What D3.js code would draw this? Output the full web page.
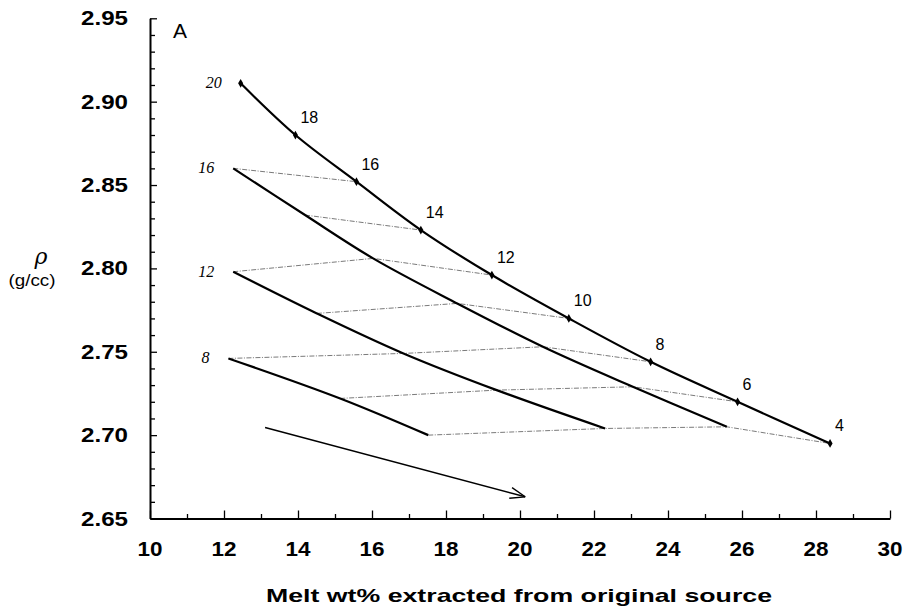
<!DOCTYPE html>
<html>
<head>
<meta charset="utf-8">
<script src="https://cdn.jsdelivr.net/npm/d3@7"></script>
<style>
  body { margin: 0; background: #fff; }
  .tick-lab { font-family: "Liberation Sans", Arial, sans-serif; font-weight: bold; font-size: 20px; }
</style>
</head>
<body>
<div id="chart"></div>
<script>
// pressure steps along the melting paths (kbar)
const pressureSteps = [20, 18, 16, 14, 12, 10, 8, 6, 4];
const startPressures = [20, 16, 12, 8];

// melt wt% and density for each path, one value per pressure step
const meltFrom20 = [12.45, 13.93, 15.58, 17.32, 19.24, 21.32, 23.53, 25.88, 28.38];
const rhoFrom20  = [2.911, 2.880, 2.852, 2.823, 2.796, 2.770, 2.744, 2.720, 2.695];
const meltFrom16 = [12.25, 14.19, 16.03, 18.30, 20.62, 23.05, 25.59];
const rhoFrom16  = [2.860, 2.832, 2.806, 2.779, 2.753, 2.729, 2.705];
const meltFrom12 = [12.25, 14.51, 16.85, 19.37, 22.30];
const rhoFrom12  = [2.798, 2.773, 2.749, 2.727, 2.704];
const meltFrom8  = [12.12, 15.14, 17.52];
const rhoFrom8   = [2.746, 2.722, 2.700];

// arrow annotation
const arrowMelt = [13.11, 20.14];
const arrowRho  = [2.7046, 2.663];

const xTicks = [10, 12, 14, 16, 18, 20, 22, 24, 26, 28, 30];
const yTicks = [2.65, 2.70, 2.75, 2.80, 2.85, 2.90, 2.95];

var width = 908, height = 615;

var svg = d3.select("#chart").append("svg")
    .attr("width", width)
    .attr("height", height);

var x = d3.scaleLinear().domain([10, 30]).range([150, 890]);
var y = d3.scaleLinear().domain([2.65, 2.95]).range([518.5, 18.3]);

var meltArrays = [meltFrom20, meltFrom16, meltFrom12, meltFrom8];
var rhoArrays = [rhoFrom20, rhoFrom16, rhoFrom12, rhoFrom8];

// build the paths
var paths = startPressures.map(function(p0, i) {
    var ps = pressureSteps.filter(function(p) { return p <= p0; });
    return {
        start: p0,
        points: ps.map(function(p, j) {
            return { p: p, melt: meltArrays[i][j], rho: rhoArrays[i][j] };
        })
    };
});

// isobars: join points with the same pressure, from the lowest path up
var isobars = [];
pressureSteps.forEach(function(p) {
    var pts = [];
    paths.slice().reverse().forEach(function(path) {
        path.points.forEach(function(d) { if (d.p === p) pts.push(d); });
    });
    if (pts.length > 1) isobars.push(pts);
});

var line = d3.line()
    .x(function(d) { return x(d.melt); })
    .y(function(d) { return y(d.rho); });

var smooth = d3.line()
    .x(function(d) { return x(d.melt); })
    .y(function(d) { return y(d.rho); })
    .curve(d3.curveCatmullRom.alpha(0.5));

// axes
var xAxis = d3.axisBottom(x).tickValues(d3.range(10, 31, 1)).tickSizeInner(-4.5).tickSizeOuter(0).tickFormat("");
var gx = svg.append("g").attr("transform", "translate(0," + y(2.65) + ")").call(xAxis);
gx.selectAll(".tick line").filter(function(d) { return d % 2 === 0; }).attr("y2", -8);

var yAxis = d3.axisLeft(y).tickValues(d3.range(0, 31).map(function(i) { return 2.65 + i * 0.01; }))
    .tickSizeInner(-5).tickSizeOuter(0).tickFormat("");
var gy = svg.append("g").attr("transform", "translate(" + x(10) + ",0)").call(yAxis);
gy.selectAll(".tick line").filter(function(d, i) { return i % 5 === 0; }).attr("x2", 7);

svg.selectAll("g .domain").attr("stroke", "#000").attr("stroke-width", 2);
svg.selectAll("g .tick line").attr("stroke", "#000").attr("stroke-width", 1.3);

svg.selectAll(".xlab").data(xTicks).enter().append("text")
    .attr("class", "tick-lab")
    .attr("x", function(d) { return x(d); })
    .attr("y", 556)
    .attr("text-anchor", "middle")
    .attr("textLength", 25)
    .attr("lengthAdjust", "spacingAndGlyphs")
    .text(function(d) { return d; });

svg.selectAll(".ylab").data(yTicks).enter().append("text")
    .attr("class", "tick-lab")
    .attr("x", 128)
    .attr("y", function(d) { return y(d) + 7; })
    .attr("text-anchor", "end")
    .attr("textLength", 47)
    .attr("lengthAdjust", "spacingAndGlyphs")
    .text(function(d) { return d.toFixed(2); });

svg.append("text")
    .attr("x", 519).attr("y", 602)
    .attr("text-anchor", "middle")
    .attr("textLength", 506)
    .attr("lengthAdjust", "spacingAndGlyphs")
    .style("font-family", "Liberation Sans, Arial, sans-serif")
    .style("font-weight", "bold")
    .style("font-size", "19px")
    .text("Melt wt% extracted from original source");

svg.append("text")
    .attr("x", 41).attr("y", 264)
    .attr("text-anchor", "middle")
    .style("font-family", "DejaVu Serif, serif")
    .style("font-style", "italic")
    .style("font-size", "22px")
    .text("ρ");
svg.append("text")
    .attr("x", 32).attr("y", 286)
    .attr("text-anchor", "middle")
    .attr("textLength", 47)
    .attr("lengthAdjust", "spacingAndGlyphs")
    .style("font-family", "Liberation Sans, Arial, sans-serif")
    .style("font-size", "17px")
    .text("(g/cc)");

svg.append("text")
    .attr("x", 180).attr("y", 38)
    .attr("text-anchor", "middle")
    .style("font-family", "Liberation Sans, Arial, sans-serif")
    .style("font-size", "21px")
    .text("A");

// isobars (thin dotted)
svg.selectAll(".isobar").data(isobars).enter().append("path")
    .attr("class", "isobar")
    .attr("d", line)
    .attr("fill", "none")
    .attr("stroke", "#7a7a7a")
    .attr("stroke-width", 1)
    .attr("stroke-dasharray", "5,1.5,1,1.5");

// melting paths
svg.selectAll(".mpath").data(paths).enter().append("path")
    .attr("class", "mpath")
    .attr("d", function(d) { return smooth(d.points); })
    .attr("fill", "none")
    .attr("stroke", "#000")
    .attr("stroke-width", 2.2);

// start labels (italic)
svg.selectAll(".startlab").data(paths).enter().append("text")
    .attr("x", function(d) { return x(d.points[0].melt) - 19; })
    .attr("y", function(d) { return y(d.points[0].rho) + 5; })
    .attr("text-anchor", "end")
    .style("font-family", "Liberation Serif, Times New Roman, serif")
    .style("font-style", "italic")
    .style("font-size", "16px")
    .text(function(d) { return d.start; });

// diamonds on the top path
var topPts = paths[0].points;
svg.selectAll(".marker").data(topPts).enter().append("path")
    .attr("d", d3.symbol().type(d3.symbolDiamond).size(22))
    .attr("transform", function(d) { return "translate(" + x(d.melt) + "," + y(d.rho) + ")"; })
    .attr("fill", "#000");

svg.selectAll(".plab").data(topPts.slice(1)).enter().append("text")
    .attr("x", function(d) { return x(d.melt) + 5; })
    .attr("y", function(d) { return y(d.rho) - 12; })
    .style("font-family", "Liberation Sans, Arial, sans-serif")
    .style("font-size", "16px")
    .text(function(d) { return d.p; });

// arrow
svg.append("line")
    .attr("x1", x(arrowMelt[0])).attr("y1", y(arrowRho[0]))
    .attr("x2", x(arrowMelt[1])).attr("y2", y(arrowRho[1]))
    .attr("stroke", "#000").attr("stroke-width", 1.5);
var ang = Math.atan2(y(arrowRho[1]) - y(arrowRho[0]), x(arrowMelt[1]) - x(arrowMelt[0]));
[-0.35, 0.35].forEach(function(da) {
    svg.append("line")
        .attr("x1", x(arrowMelt[1])).attr("y1", y(arrowRho[1]))
        .attr("x2", x(arrowMelt[1]) - 16 * Math.cos(ang + da))
        .attr("y2", y(arrowRho[1]) - 16 * Math.sin(ang + da))
        .attr("stroke", "#000").attr("stroke-width", 1.3);
});
</script>
</body>
</html>
